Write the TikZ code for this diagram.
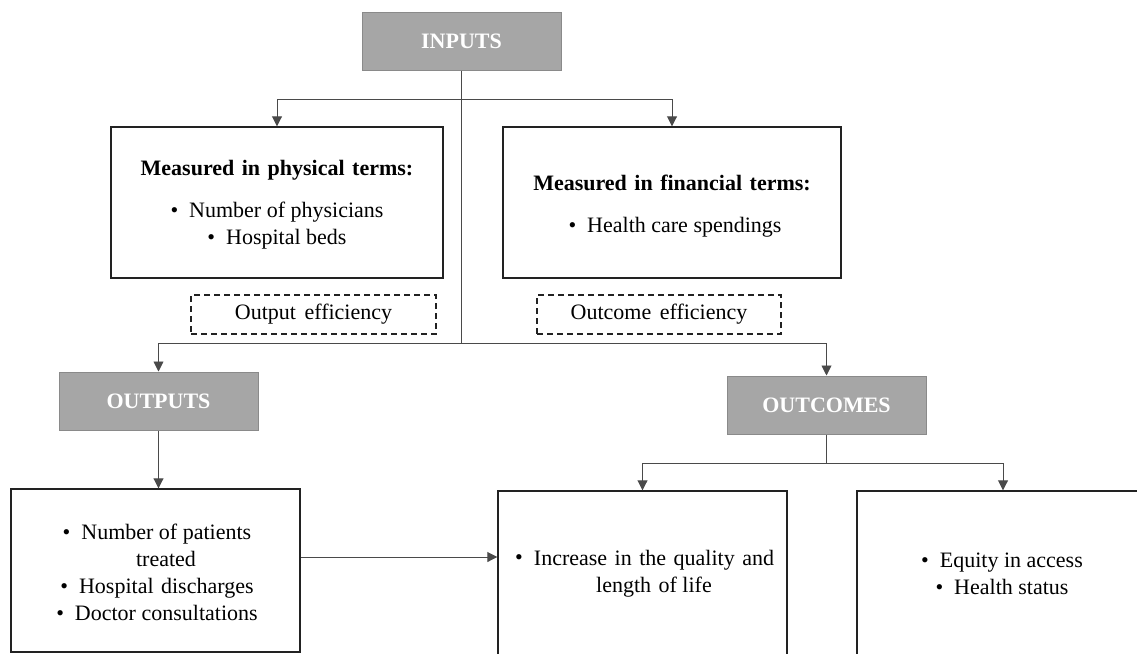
\documentclass[tikz,border=0pt]{standalone}
\usepackage{fontspec}
\setmainfont{Liberation Serif}
\usetikzlibrary{arrows.meta}
\definecolor{boxgray}{HTML}{A6A6A6}
\definecolor{edgegray}{HTML}{8A8A8A}
\definecolor{linegray}{HTML}{4A4A4A}
\definecolor{boxline}{HTML}{222222}
\newcommand{\bul}{\textbullet\hspace{11pt}}
\begin{document}
\begin{tikzpicture}[x=1pt,y=-1pt,
  every node/.style={font=\fontsize{22}{27}\selectfont, inner sep=0pt},
  graybox/.style={draw=edgegray, fill=boxgray, line width=1pt, minimum width=199pt, minimum height=58pt, text=white, font=\fontsize{22}{27}\selectfont\bfseries},
  infobox/.style={draw=boxline, line width=1.4pt},
  effbox/.style={draw=boxline, dash pattern=on 6pt off 4pt, line width=1.2pt, minimum width=245pt, minimum height=39pt},
  conn/.style={draw=linegray, line width=0.9pt},
  arr/.style={conn, -{Triangle[length=10pt,width=10pt]}},
  txt/.style={align=center}]
\useasboundingbox (0,0) rectangle (1137,653);
\fill[white] (0,0) rectangle (1137,653);

% gray boxes
\node[graybox] (inputs) at (461.5,41) {INPUTS};
\node[graybox] (outputs) at (158.5,401) {OUTPUTS};
\node[graybox] (outcomes) at (826.5,405) {OUTCOMES};

% input boxes
\node[infobox, minimum width=332pt, minimum height=151pt] (phys) at (277,202.5) {};
\node[txt] (physT) at (277,170) {\textbf{Measured\hspace{2pt} in\hspace{2pt} physical\hspace{2pt} terms:}};
\node[txt] (physL) at (277,225.5) {\bul Number of physicians\\\bul Hospital beds};

\node[infobox, minimum width=338pt, minimum height=151pt] (fin) at (672,202.5) {};
\node[txt] (finT) at (672,183) {\textbf{Measured\hspace{2pt} in\hspace{2pt} financial\hspace{2pt} terms:}};
\node[txt] (finL) at (675,227) {\bul Health care spendings};

% efficiency boxes
\node[effbox] (oeff) at (313.5,314.5) {Output\hspace{3pt} efficiency};
\node[effbox, minimum width=244pt] (ceff) at (659,314.5) {Outcome\hspace{3pt} efficiency};

% bottom boxes
\node[infobox, minimum width=289pt, minimum height=163pt] (lb) at (155.5,570.5) {};
\node[txt] (lbT) at (157,572) {\bul Number of patients\\\hspace{18pt}treated\\\bul Hospital\hspace{2pt} discharges\\\bul Doctor consultations};

\node[infobox, minimum width=289pt, minimum height=209pt] (mid) at (642.5,595.5) {};
\node (midB) at (519,560) {\textbullet};
\node[txt] (midT) at (654,573.5) {Increase\hspace{2pt} in\hspace{2pt} the\hspace{2pt} quality\hspace{2pt} and\\length\hspace{2pt} of life};

\node[infobox, minimum width=292pt, minimum height=209pt] (rgt) at (1003,595.5) {};
\node[txt] (rgtT) at (1002,573.5) {\bul Equity in access\\\bul Health status};

% connectors
\coordinate (tb) at (461.5,99);
\coordinate (mb) at (461.5,343);
\coordinate (ob) at (826.5,463);
\coordinate (ay) at (0,557);
\draw[conn] (inputs.south) -- (mb);
\draw[arr] (tb) -| (phys.north);
\draw[arr] (tb) -| (fin.north);
\draw[arr] (mb) -| (outputs.north);
\draw[arr] (mb) -| (outcomes.north);
\draw[arr] (outputs.south) -- (outputs.south |- lb.north);
\draw[conn] (outcomes.south) -- (ob);
\draw[arr] (ob) -| (mid.north);
\draw[arr] (ob) -| (rgt.north);
\draw[arr] (lb.east |- ay) -- (mid.west |- ay);
\end{tikzpicture}
\end{document}
